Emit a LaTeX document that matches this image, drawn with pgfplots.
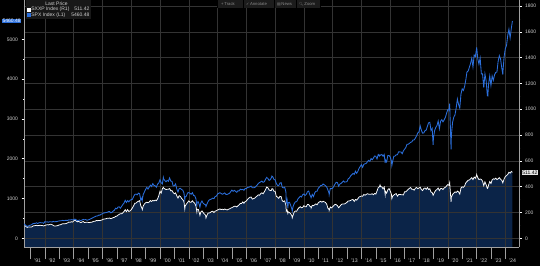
\documentclass[border=0pt]{standalone}
\usepackage{fontspec}
\setmainfont{Liberation Sans}
\newfontfamily\symf{DejaVu Sans}
\newfontfamily\emo{Noto Emoji}
\usepackage{pgfplots}
\usepackage{pgfplotstable}
\pgfplotsset{compat=1.18}
\definecolor{navy}{HTML}{0B2448}
\definecolor{spxblue}{HTML}{2B6FDC}
\definecolor{gridc}{HTML}{333333}
\definecolor{axc}{HTML}{A0A0A0}
\definecolor{txt}{HTML}{D0D0D0}
\definecolor{legbg}{HTML}{181818}
\definecolor{tbbg}{HTML}{1C1C1C}
\definecolor{tbtxt}{HTML}{8C8C8C}
\definecolor{lgray}{HTML}{E6E6E6}

\pgfplotstableread{
yr mo spx sxxp
1990 6 358 105
1990 7 356 106
1990 8 323 94
1990 9 306 86
1990 9.35 295 85
1990 10 304 89
1990 11 322 88
1990 12 330 88
1991 1 344 88
1991 2 367 95
1991 3 375 98
1991 4 375 99
1991 5 390 101
1991 6 371 98
1991 7 388 100
1991 8 395 101
1991 9 388 100
1991 10 392 99
1991 11 375 96
1991 12 417 100
1992 1 409 103
1992 2 413 106
1992 3 404 104
1992 4 415 107
1992 5 415 110
1992 6 408 106
1992 7 424 100
1992 8 414 95
1992 9 418 96
1992 10 419 97
1992 11 431 100
1992 12 436 104
1993 1 439 105
1993 2 443 110
1993 3 452 113
1993 4 440 112
1993 5 450 113
1993 6 451 116
1993 7 448 120
1993 8 464 127
1993 9 459 124
1993 10 468 129
1993 11 462 126
1993 12 466 135
1994 1 482 141
1994 2 467 135
1994 3 446 128
1994 4 451 132
1994 5 457 127
1994 6 444 122
1994 7 458 127
1994 8 475 130
1994 9 463 123
1994 10 472 124
1994 11 454 125
1994 12 459 124
1995 1 470 122
1995 2 487 124
1995 3 501 124
1995 4 515 129
1995 5 533 133
1995 6 545 133
1995 7 562 138
1995 8 562 137
1995 9 584 139
1995 10 582 138
1995 11 605 141
1995 12 616 144
1996 1 636 149
1996 2 640 150
1996 3 646 152
1996 4 654 156
1996 5 669 156
1996 6 671 157
1996 7 640 153
1996 8 652 156
1996 9 687 161
1996 10 705 163
1996 11 757 170
1996 12 741 172
1997 1 786 180
1997 2 791 186
1997 3 757 191
1997 4 801 190
1997 5 848 198
1997 6 885 208
1997 7 954 222
1997 8 899 207
1997 9 947 222
1997 10 915 208
1997 11 955 213
1997 12 970 222
1998 1 980 236
1998 2 1049 252
1998 3 1102 272
1998 4 1112 273
1998 5 1091 282
1998 6 1134 287
1998 7 1121 292
1998 8 957 252
1998 9 1017 232
1998 9.25 959 223
1998 10 1099 250
1998 11 1164 266
1998 12 1229 275
1999 1 1280 280
1999 2 1238 276
1999 3 1286 281
1999 4 1335 293
1999 5 1302 286
1999 6 1373 294
1999 7 1329 290
1999 8 1320 296
1999 9 1283 292
1999 10 1363 306
1999 11 1389 330
1999 12 1469 365
2000 1 1394 350
2000 2 1366 385
2000 2.8 1527 395
2000 3 1499 390
2000 4 1452 383
2000 5 1421 378
2000 6 1455 380
2000 7 1431 381
2000 8 1518 386
2000 9 1437 368
2000 10 1429 370
2000 11 1315 355
2000 12 1320 345
2001 1 1366 352
2001 2 1240 330
2001 3 1160 312
2001 4 1249 330
2001 5 1256 325
2001 6 1224 310
2001 7 1211 300
2001 8 1134 285
2001 8.7 966 228
2001 9 1041 250
2001 10 1060 265
2001 11 1139 278
2001 12 1148 290
2002 1 1130 280
2002 2 1107 280
2002 3 1147 291
2002 4 1077 280
2002 5 1067 272
2002 6 990 250
2002 6.75 797 205
2002 7 912 225
2002 8 916 224
2002 9 815 190
2002 9.3 777 178
2002 10 886 203
2002 11 936 213
2002 12 880 200
2003 1 856 188
2003 2 841 180
2003 2.35 800 158
2003 3 848 175
2003 4 917 195
2003 5 964 196
2003 6 975 200
2003 7 990 208
2003 8 1008 210
2003 9 996 200
2003 10 1051 211
2003 11 1058 214
2003 12 1112 220
2004 1 1131 223
2004 2 1145 228
2004 3 1126 223
2004 4 1107 226
2004 5 1121 222
2004 6 1141 227
2004 7 1102 223
2004 8 1104 220
2004 9 1115 225
2004 10 1130 228
2004 11 1174 234
2004 12 1212 238
2005 1 1181 243
2005 2 1204 248
2005 3 1181 249
2005 4 1157 243
2005 5 1192 252
2005 6 1191 260
2005 7 1234 271
2005 8 1220 270
2005 9 1229 282
2005 10 1207 272
2005 11 1249 285
2005 12 1248 289
2006 1 1280 302
2006 2 1281 312
2006 3 1295 318
2006 4 1311 320
2006 5 1270 304
2006 6 1270 308
2006 7 1277 311
2006 8 1304 321
2006 9 1336 328
2006 10 1378 337
2006 11 1401 334
2006 12 1418 346
2007 1 1438 353
2007 2 1407 345
2007 3 1421 360
2007 4 1482 377
2007 5 1531 398
2007 6 1503 392
2007 7 1455 375
2007 8 1474 370
2007 9 1527 372
2007 9.3 1565 385
2007 10 1549 385
2007 11 1481 365
2007 12 1468 365
2008 1 1379 325
2008 2 1331 320
2008 3 1323 310
2008 4 1386 325
2008 5 1400 324
2008 6 1280 290
2008 7 1267 285
2008 8 1283 290
2008 9 1166 255
2008 9.33 899 210
2008 10 969 220
2008 10.65 752 193
2008 11 896 205
2008 12 903 200
2009 1 826 190
2009 2 735 175
2009 2.3 677 159
2009 3 798 180
2009 4 873 205
2009 5 919 212
2009 6 919 210
2009 7 987 228
2009 8 1021 238
2009 9 1057 245
2009 10 1036 237
2009 11 1096 240
2009 12 1115 253
2010 1 1074 245
2010 2 1104 245
2010 3 1169 263
2010 4 1187 262
2010 5 1089 248
2010 6 1031 243
2010 6.05 1022 235
2010 7 1102 256
2010 8 1049 253
2010 9 1141 260
2010 10 1183 267
2010 11 1181 260
2010 12 1258 275
2011 1 1286 283
2011 2 1327 287
2011 3 1326 280
2011 4 1364 287
2011 5 1345 283
2011 6 1321 278
2011 7 1292 266
2011 8 1219 234
2011 9 1131 225
2011 9.1 1099 217
2011 10 1253 243
2011 11 1247 236
2011 12 1258 244
2012 1 1312 254
2012 2 1366 264
2012 3 1408 261
2012 4 1398 253
2012 5 1310 237
2012 6 1362 248
2012 7 1379 260
2012 8 1407 266
2012 9 1441 266
2012 10 1412 267
2012 11 1416 273
2012 12 1426 280
2013 1 1498 290
2013 2 1515 290
2013 3 1569 294
2013 4 1598 299
2013 5 1631 301
2013 6 1606 286
2013 7 1686 301
2013 8 1633 296
2013 9 1682 307
2013 10 1757 320
2013 11 1806 324
2013 12 1848 328
2014 1 1783 326
2014 2 1859 340
2014 3 1872 334
2014 4 1884 340
2014 5 1924 346
2014 6 1960 342
2014 7 1931 341
2014 8 2003 342
2014 9 1972 345
2014 10 2018 338
2014 11 2068 348
2014 12 2059 343
2015 1 1995 367
2015 2 2105 393
2015 3 2068 400
2015 3.5 2097 414
2015 4 2086 400
2015 5 2107 399
2015 6 2063 383
2015 7 2104 398
2015 7.8 1893 340
2015 8 1972 365
2015 9 1920 350
2015 10 2079 376
2015 11 2080 386
2015 12 2044 366
2016 1 1940 342
2016 1.35 1829 308
2016 2 1932 327
2016 3 2060 336
2016 4 2065 342
2016 5 2097 347
2016 6 2099 327
2016 7 2174 339
2016 8 2171 341
2016 9 2168 338
2016 10 2126 338
2016 11 2199 336
2016 12 2239 361
2017 1 2279 360
2017 2 2364 370
2017 3 2363 380
2017 4 2384 387
2017 5 2412 394
2017 6 2423 380
2017 7 2470 380
2017 8 2472 373
2017 9 2519 388
2017 10 2575 394
2017 11 2648 385
2017 12 2674 390
2018 1 2824 396
2018 2 2714 378
2018 3 2641 370
2018 4 2648 386
2018 5 2705 390
2018 6 2718 380
2018 7 2816 394
2018 8 2902 378
2018 9 2914 384
2018 10 2712 358
2018 11 2760 355
2018 11.77 2351 333
2018 12 2507 338
2019 1 2704 358
2019 2 2784 372
2019 3 2834 379
2019 4 2946 390
2019 5 2752 370
2019 6 2942 385
2019 7 2980 386
2019 8 2926 378
2019 9 2977 391
2019 10 3038 395
2019 11 3141 406
2019 12 3231 416
2020 1 3226 411
2020 1.6 3386 433
2020 2 2954 377
2020 2.75 2237 282
2020 3 2585 320
2020 4 2912 340
2020 5 3044 351
2020 6 3100 360
2020 7 3271 355
2020 8 3500 366
2020 9 3363 360
2020 10 3270 342
2020 11 3622 390
2020 12 3756 399
2021 1 3714 395
2021 2 3811 405
2021 3 3973 430
2021 4 4181 440
2021 5 4204 450
2021 6 4298 452
2021 7 4395 461
2021 8 4523 470
2021 9 4308 455
2021 10 4605 475
2021 11 4567 465
2021 12 4766 488
2022 0.1 4797 494
2022 1 4516 470
2022 2 4374 455
2022 3 4530 460
2022 4 4132 456
2022 5 4132 443
2022 6 3785 408
2022 7 4130 438
2022 8 3955 415
2022 9 3586 387
2022 9.4 3577 390
2022 10 3872 412
2022 11 4080 440
2022 12 3840 425
2023 1 4077 453
2023 2 3970 461
2023 3 4109 458
2023 4 4169 466
2023 5 4180 455
2023 6 4450 461
2023 7 4589 470
2023 8 4508 458
2023 9 4288 450
2023 9.9 4117 430
2023 10 4194 434
2023 11 4568 461
2023 12 4770 479
2024 1 4846 486
2024 2 5096 495
2024 3 5254 512
2024 4 5036 505
2024 5 5278 518
2024 5.9 5460.48 511.42
}\data

\pgfplotsset{
  common/.style={
    at={(24pt,19pt)}, anchor=south west, scale only axis,
    width=495pt, height=247pt,
    xmin=1990.55, xmax=2024.95,
    /pgf/number format/assume math mode=true,
    /pgf/number format/1000 sep={},
    scaled y ticks=false,
    tick align=outside,
  },
  tl/.style={font=\fontsize{5}{6}\selectfont, text=txt},
}

\begin{document}
\begin{tikzpicture}[x=1pt,y=1pt]
\fill[black] (0,0) rectangle (540,266);
\useasboundingbox (0,0) rectangle (540,266);

% SXXP area (axis shifted so that its floor is the bottom of the plot)
\begin{axis}[common, hide axis, ymin=0, ymax=1913]
\addplot[draw=none, fill=navy] table[x expr=\thisrow{yr}+\thisrow{mo}/12, y expr=\thisrow{sxxp}+67]{\data} \closedcycle;
\end{axis}

% Right axis: grid, SXXP line
\begin{axis}[common,
  ymin=-67, ymax=1846,
  axis x line*=bottom, axis y line*=right,
  axis line style={axc, line width=0.6pt},
  xtick={1992,1994,...,2024}, xticklabels={}, xtick style={draw=none},
  xmajorgrids, ymajorgrids, grid style={gridc, line width=0.5pt},
  ytick={0,200,...,1800}, minor y tick num=1,
  major tick length=2.5pt, minor tick length=1.3pt,
  ytick style={white, line width=0.5pt},
  yticklabel style={tl},
  extra y ticks={511.42}, extra y tick labels={511.42},
  extra y tick style={grid=none, ytick style={draw=none},
    yticklabel style={fill=lgray, text=black, inner sep=0.7pt}},
]
\addplot[white, line width=0.75pt] table[x expr=\thisrow{yr}+\thisrow{mo}/12, y=sxxp]{\data};
\end{axis}

% Left axis: SPX line, x labels, legend
\begin{axis}[common,
  ymin=-219, ymax=5988,
  axis x line*=bottom, axis y line*=left,
  axis line style={axc, line width=0.6pt},
  xtick={1991.5,1992.5,...,2024.5},
  xticklabels={'91,'92,'93,'94,'95,'96,'97,'98,'99,'00,'01,'02,'03,'04,'05,'06,'07,'08,'09,'10,'11,'12,'13,'14,'15,'16,'17,'18,'19,'20,'21,'22,'23,'24},
  xtick style={draw=none},
  xticklabel style={font=\fontsize{5.2}{6}\selectfont, text=txt, anchor=base, yshift=-12.5pt},
  extra x ticks={1991,1992,...,2024}, extra x tick labels={},
  extra x tick style={major tick length=12pt, xtick style={draw=axc, line width=0.4pt}},
  ytick={0,1000,...,5000}, minor y tick num=1,
  major tick length=2.5pt, minor tick length=1.3pt,
  ytick style={white, line width=0.5pt},
  yticklabel style={tl},
  extra y ticks={5460.48}, extra y tick labels={5460.48},
  extra y tick style={ytick style={draw=none},
    yticklabel style={fill=spxblue, text=white, inner sep=0.7pt}},
  legend style={at={(0.004,1)}, anchor=north west, fill=legbg, draw=none,
    font=\fontsize{5}{6}\selectfont, text=txt, inner sep=1pt, row sep=-1pt,
    nodes={inner sep=0.6pt}},
  legend cell align=left,
]
\addplot[spxblue, line width=0.85pt, forget plot] table[x expr=\thisrow{yr}+\thisrow{mo}/12, y=spx]{\data};
\addlegendimage{empty legend}
\addlegendentry{\hspace{14pt}Last Price}
\addlegendimage{legend image code/.code={\fill[white] (0pt,-1.6pt) rectangle (3.2pt,1.6pt);}}
\addlegendentry{\makebox[58pt][l]{SXXP Index (R1)\hfill 511.42}}
\addlegendimage{legend image code/.code={\fill[spxblue] (0pt,-1.6pt) rectangle (3.2pt,1.6pt);}}
\addlegendentry{\makebox[58pt][l]{SPX Index (L1)\hfill 5460.48}}
\end{axis}

% toolbar
\fill[tbbg] (217,258) rectangle (320,266);
\foreach \xx in {217,243.5,274.5,296.5,320} {\draw[black, line width=0.6pt] (\xx,258) -- (\xx,266);}
\begin{scope}[every node/.style={font=\fontsize{4.2}{5}\selectfont, text=tbtxt, inner sep=0pt, anchor=west}]
\node at (221,262) {+\,Track};
\node at (246,262) {{\symf\fontsize{3.8}{5}\selectfont ✓}\,Annotate};
\node at (277,262) {{\symf\fontsize{3.8}{5}\selectfont ▤}\,News};
\node at (299,262) {{\emo\fontsize{3.6}{5}\selectfont 🔍}\,Zoom};
\end{scope}
\end{tikzpicture}
\end{document}
